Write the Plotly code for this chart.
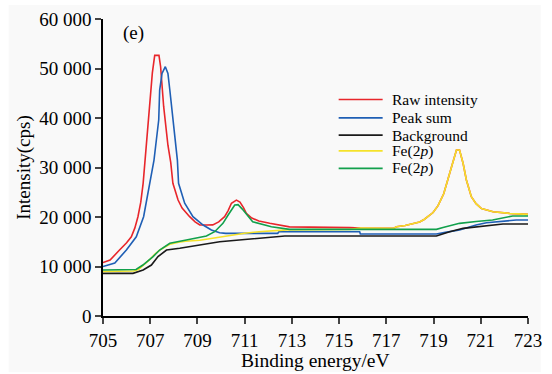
import plotly.graph_objects as go

# ---- data ----
raw_x = [705, 705.3, 705.7, 706.0, 706.2, 706.35, 706.48, 706.6, 706.7, 706.8, 706.95, 707.09,
         707.19, 707.37, 707.44, 707.57, 707.75, 707.87, 707.96, 708.07, 708.18, 708.35, 708.5,
         708.67, 708.9, 709.1, 709.4, 709.65, 709.9, 710.15, 710.3, 710.44, 710.65, 710.8,
         710.95, 711.07, 711.3, 711.6, 712.06, 712.5, 712.9, 715.45, 715.9, 717.3, 717.43,
         717.8, 718.13, 718.41, 718.6, 718.84, 718.98, 719.19, 719.43, 719.6, 719.8, 719.97,
         720.1, 720.25, 720.39, 720.6, 720.8, 721.03, 721.52, 722.22, 723]
raw_y = [10800, 11300, 13330, 14800, 16000, 17800, 20060, 23000, 26800, 32500, 39600, 49100,
         52660, 52660, 50360, 42280, 34500, 31000, 26800, 25000, 23430, 21800, 20900,
         20060, 19000, 18400, 18380, 18400, 19000, 20060, 21300, 22770, 23400, 23000,
         21900, 20740, 19800, 19200, 18720, 18300, 18000, 17850, 17750, 17710, 18040,
         18300, 18720, 19000, 19500, 20300, 20900, 22300, 24700, 27470, 30850, 33530,
         33530, 30850, 27470, 24100, 22700, 21700, 21070, 20740, 20540]

peak_x = [705, 705.5, 705.99, 706.41, 706.72, 706.98, 707.16, 707.26, 707.36, 707.4, 707.5,
          707.64, 707.75, 707.83, 707.97, 708.04, 708.15, 708.2, 708.46, 708.81, 709.24,
          709.59, 709.94, 710.2, 712.4, 712.45, 715.87, 715.9, 719.12, 719.5, 720.1, 720.8,
          721.24, 722.5, 723]
peak_y = [10000, 10700, 13330, 16000, 20060, 26800, 31500, 35550, 39600, 45650, 49000,
          50360, 49000, 45650, 39600, 35550, 31500, 26800, 22770, 20060, 18380,
          17370, 16830, 16700, 16700, 17030, 17030, 16560, 16560, 16900, 17370, 18380,
          18850, 19390, 19390]

bg_x = [705, 706.27, 706.7, 707.05, 707.33, 707.69, 708.25, 709.1, 709.94, 710.65, 711.6,
        712.7, 719.12, 719.68, 720.25, 721.24, 721.94, 723]
bg_y = [8620, 8620, 9290, 10300, 12000, 13330, 13670, 14340, 15000, 15300, 15700,
        16160, 16160, 17030, 17710, 18180, 18600, 18600]

fe_a_x = [705, 706.3, 706.5, 706.7, 707.0, 707.2, 707.4, 707.6, 707.83, 708.2, 708.5, 709.1,
          709.6, 710.0, 710.5, 711.0, 711.6, 712.8, 715.45, 715.9, 717.3, 717.43, 717.8,
          718.13, 718.41, 718.6, 718.84, 718.98, 719.19, 719.43, 719.6, 719.8, 719.97,
          720.1, 720.25, 720.39, 720.6, 720.8, 721.03, 721.52, 722.22, 723]
fe_a_y = [9000, 9100, 9400, 10200, 11500, 12500, 13300, 13900, 14500, 14900, 15100, 15300,
          15700, 16000, 16300, 16700, 17030, 17400, 17500, 17750, 17710, 18040, 18300,
          18720, 19000, 19500, 20300, 20900, 22300, 24700, 27470, 30850, 33530,
          33530, 30850, 27470, 24100, 22700, 21700, 21070, 20740, 20540]

fe_b_x = [705, 706.4, 706.69, 707.12, 707.4, 707.83, 708.53, 709.38, 709.73, 710.08, 710.3,
          710.58, 710.72, 710.9, 711.34, 712.13, 712.9, 719.12, 719.4, 720.1, 720.8, 721.5,
          722.35, 723]
fe_b_y = [9300, 9400, 10300, 12000, 13330, 14690, 15350, 16160, 17030, 18720, 20400,
          22420, 22500, 21600, 19050, 18040, 17510, 17510, 17900, 18720, 19100, 19390,
          20200, 20200]

series_names = ["Raw intensity", "Peak sum", "Background", "Fe(2<i>p</i>)", "Fe(2<i>p</i>)"]
series_colors = ["#e8262b", "#1f5fb5", "#1a1a1a", "#f5e22a", "#12a04c"]

x_ticks = [705, 707, 709, 711, 713, 715, 717, 719, 721, 723]
y_ticks = [0, 10000, 20000, 30000, 40000, 50000, 60000]
x_title = "Binding energy/eV"
y_title = "Intensity(cps)"

FONT = "Liberation Serif"

fig = go.Figure()
for (xs, ys), name, col in zip([(raw_x, raw_y), (peak_x, peak_y), (bg_x, bg_y),
                                (fe_a_x, fe_a_y), (fe_b_x, fe_b_y)],
                               series_names, series_colors):
    fig.add_trace(go.Scatter(x=xs, y=ys, mode="lines", name=name, showlegend=False,
                             line=dict(color=col, width=1.6)))

# hand-built legend (row spacing tighter than plotly's legend allows)
shapes = [dict(type="rect", xref="paper", yref="paper", x0=-0.222, x1=1.03,
               y0=-0.189, y1=1.047, fillcolor="#f9f9f9", line=dict(width=0),
               layer="below")]
annotations = [dict(text="(e)", xref="paper", yref="paper", x=0.043, y=0.953,
                    xanchor="left", yanchor="middle", showarrow=False,
                    font=dict(family=FONT, size=19)),
               dict(text=x_title, xref="paper", yref="paper", x=0.5, y=-0.15,
                    xanchor="center", yanchor="middle", showarrow=False,
                    font=dict(family=FONT, size=19.5))]
leg_x0, leg_x1, leg_tx = 0.5545, 0.658, 0.676
leg_rows = [0.729, 0.667, 0.609, 0.556, 0.497]
for name, col, ly in zip(series_names, series_colors, leg_rows):
    shapes.append(dict(type="line", xref="paper", yref="paper", x0=leg_x0, x1=leg_x1,
                       y0=ly, y1=ly, line=dict(color=col, width=1.6)))
    annotations.append(dict(text=name, xref="paper", yref="paper", x=leg_tx, y=ly,
                            xanchor="left", yanchor="middle", showarrow=False,
                            font=dict(family=FONT, size=15.5)))

fig.update_layout(
    width=552, height=374, autosize=False,
    margin=dict(l=103, r=24, t=19, b=58),
    paper_bgcolor="white", plot_bgcolor="rgba(0,0,0,0)",
    separators=". ",
    font=dict(family=FONT, size=18, color="black"),
    showlegend=False,
    shapes=shapes,
    annotations=annotations,
)
fig.update_xaxes(range=[705, 723], tickvals=x_ticks, ticks="outside", ticklen=6,
                 tickwidth=1.5, showline=True, linecolor="black", linewidth=1.5,
                 showgrid=False, zeroline=False, automargin=False,
                 tickfont=dict(family=FONT, size=19, color="black"))
fig.update_yaxes(range=[0, 60000], tickvals=y_ticks, tickformat=",d", ticks="outside",
                 ticklen=6, tickwidth=1.5, showline=True, linecolor="black", linewidth=1.5,
                 showgrid=False, zeroline=False, automargin=False,
                 tickfont=dict(family=FONT, size=19, color="black"),
                 title=dict(text=y_title,
                            font=dict(family=FONT, size=19, color="black"), standoff=4))

fig.write_html("out.html")
